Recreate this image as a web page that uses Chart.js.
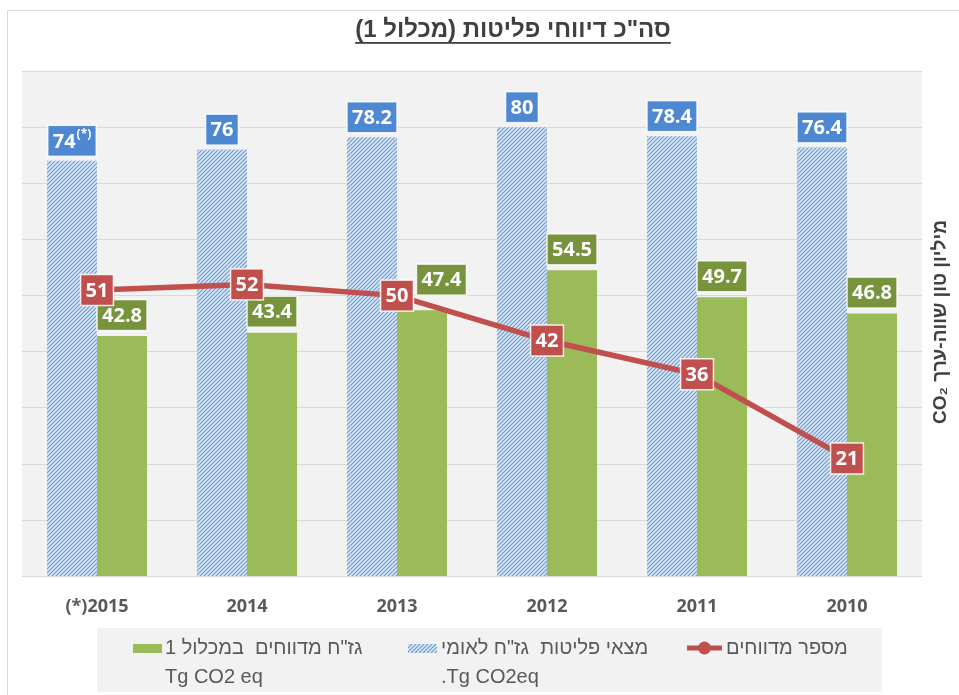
<!DOCTYPE html>
<html>
<head>
<meta charset="utf-8">
<script src="https://cdn.jsdelivr.net/npm/chart.js@4"></script>
<style>
  body { margin: 0; background: #fff; }
  canvas { display: block; }
</style>
</head>
<body>
<canvas id="chart" width="959" height="695"></canvas>
<script>
// data
const categories = ['(*)2015', '2014', '2013', '2012', '2011', '2010'];
const inventory = [74, 76, 78.2, 80, 78.4, 76.4];           // national GHG inventory
const inventoryNotes = ['(*)', '', '', '', '', ''];
const reported = [42.8, 43.4, 47.4, 54.5, 49.7, 46.8];      // reported emissions, cluster 1
const reporters = [51, 52, 50, 42, 36, 21];                 // number of reporters
const yTicks = { min: 0, max: 90, step: 10 };

const chartTitle = 'סה"כ דיווחי פליטות (מכלול 1)';
const yTitle = 'מיליון טון שווה-ערך CO₂';
const legendNotes = ['', '.Tg CO2eq', 'Tg CO2 eq'];

const RED = '#c0504d';
const GREEN = '#9bbb59';
const GREEN_DARK = '#77933c';
const BLUE_DARK = '#4f88d2';
const HEB = '"Liberation Sans", "DejaVu Sans", sans-serif';
const NUM = '"Open Sans", "Liberation Sans", sans-serif';

const ctx = document.getElementById('chart').getContext('2d');

function hatch() {
    const c = document.createElement('canvas');
    c.width = 4; c.height = 4;
    const x = c.getContext('2d');
    x.fillStyle = '#dae6f5';
    x.fillRect(0, 0, 4, 4);
    x.strokeStyle = '#6d9dd5';
    x.lineWidth = 1.2;
    x.beginPath();
    x.moveTo(0, 4); x.lineTo(4, 0);
    x.moveTo(-1, 1); x.lineTo(1, -1);
    x.moveTo(3, 5); x.lineTo(5, 3);
    x.stroke();
    return ctx.createPattern(c, 'repeat');
}
const blueHatch = hatch();

function boxSize(c, text, sup) {
    c.font = 'bold 20px ' + NUM;
    const w1 = c.measureText(text).width;
    c.font = 'bold 12px ' + NUM;
    const w2 = sup ? c.measureText(sup).width + 1 : 0;
    return { w1, w2, w: Math.max(w1 + w2 + 10, 30), h: 31 };
}

function box(c, cx, cy, text, sup, fill) {
    const { w1, w2, w, h } = boxSize(c, text, sup);
    c.fillStyle = fill;
    c.fillRect(cx - w / 2, cy - h / 2, w, h);
    c.strokeStyle = 'rgba(255,255,255,0.85)';
    c.lineWidth = 1.5;
    c.strokeRect(cx - w / 2, cy - h / 2, w, h);
    c.fillStyle = '#fff';
    c.textBaseline = 'middle';
    c.textAlign = 'left';
    c.direction = 'ltr';
    c.font = 'bold 20px ' + NUM;
    const x0 = cx - (w1 + w2) / 2;
    c.fillText(text, x0, cy + 1);
    if (sup) {
        c.font = 'bold 12px ' + NUM;
        c.fillText(sup, x0 + w1 + 1, cy - 6);
    }
}

const decorations = {
    id: 'decorations',
    beforeDraw(chart) {
        const c = chart.ctx, a = chart.chartArea;
        c.save();
        c.fillStyle = '#fff';
        c.fillRect(0, 0, chart.width, chart.height);
        c.strokeStyle = '#d9d9d9';
        c.lineWidth = 1;
        c.beginPath();
        c.moveTo(7.5, chart.height + 5); c.lineTo(7.5, 10.5); c.lineTo(chart.width + 5, 10.5);
        c.stroke();
        c.fillStyle = '#f2f2f2';
        c.fillRect(a.left, a.top, a.right - a.left, a.bottom - a.top);
        c.restore();
    },
    afterDatasetsDraw(chart) {
        const c = chart.ctx;
        c.save();
        const redMeta = chart.getDatasetMeta(2);
        const blueMeta = chart.getDatasetMeta(0);
        blueMeta.data.forEach((bar, i) => {
            box(c, bar.x, bar.y - 20, String(inventory[i]), inventoryNotes[i], BLUE_DARK);
        });
        const greenMeta = chart.getDatasetMeta(1);
        greenMeta.data.forEach((bar, i) => {
            const txt = String(reported[i]);
            const s = boxSize(c, txt, '');
            let cx = bar.x, cy = bar.y - 21;
            // keep clear of the red label of the same year, like the original does
            const pt = redMeta.data[i];
            const rs = boxSize(c, String(reporters[i]), '');
            if (Math.abs(cx - pt.x) < (s.w + rs.w) / 2 && Math.abs(cy - pt.y) < 15) {
                cx = pt.x + rs.w / 2 + s.w / 2 + 3;
                cy = pt.y - 16;
            }
            box(c, cx, cy, txt, '', GREEN_DARK);
        });
        redMeta.data.forEach((pt, i) => {
            box(c, pt.x, pt.y, String(reporters[i]), '', RED);
        });
        c.restore();
    },
    afterDraw(chart) {
        const c = chart.ctx;
        c.save();
        // title
        c.direction = 'rtl';
        c.textAlign = 'center';
        c.textBaseline = 'middle';
        c.fillStyle = '#404040';
        c.font = 'bold 24px ' + HEB;
        const tx = 513, ty = 30;
        c.fillText(chartTitle, tx, ty);
        const tw = c.measureText(chartTitle).width;
        c.fillRect(tx - tw / 2, ty + 12, tw, 1.8);

        // y axis title, on the right, reading bottom to top
        c.translate(941, 322);
        c.rotate(-Math.PI / 2);
        c.font = 'bold 19px ' + HEB;
        c.fillText(yTitle, 0, 0);
        c.restore();

        // legend
        c.save();
        c.fillStyle = '#f2f2f2';
        c.fillRect(97, 628, 785, 64);
        const ds = chart.data.datasets;
        const items = [
            { ds: ds[2], sx: 687, tx: 726 },
            { ds: ds[0], sx: 408, tx: 441, note: legendNotes[1] },
            { ds: ds[1], sx: 133, tx: 165, note: legendNotes[2] }
        ];
        items.forEach(it => {
            const y = 648;
            if (it.ds.type === 'line') {
                c.strokeStyle = RED;
                c.lineWidth = 5;
                c.beginPath(); c.moveTo(it.sx, y); c.lineTo(it.sx + 35, y); c.stroke();
                c.fillStyle = RED;
                c.beginPath(); c.arc(it.sx + 17.5, y, 6.5, 0, Math.PI * 2); c.fill();
            } else {
                c.fillStyle = it.ds.backgroundColor;
                c.fillRect(it.sx, y - 4, 29, 9);
            }
            c.fillStyle = '#595959';
            c.font = '20px ' + HEB;
            c.direction = 'rtl';
            c.textAlign = 'left';
            c.textBaseline = 'middle';
            c.fillText(it.ds.label, it.tx, y);
            if (it.note) {
                c.direction = 'ltr';
                c.fillText(it.note, it.tx, y + 29);
            }
        });
        c.restore();
    }
};

const chart = new Chart(ctx, {
    type: 'bar',
    data: {
        labels: categories,
        datasets: [
            {
                label: 'מצאי פליטות  גז"ח לאומי',
                data: inventory,
                backgroundColor: blueHatch,
                order: 1,
                categoryPercentage: 0.667,
                barPercentage: 1
            },
            {
                label: 'גז"ח מדווחים  במכלול 1',
                data: reported,
                backgroundColor: GREEN,
                order: 2,
                categoryPercentage: 0.667,
                barPercentage: 1
            },
            {
                type: 'line',
                label: 'מספר מדווחים',
                data: reporters,
                borderColor: RED,
                backgroundColor: RED,
                borderWidth: 5.5,
                pointRadius: 0,
                tension: 0,
                order: 0
            }
        ]
    },
    options: {
        responsive: false,
        devicePixelRatio: 1,
        animation: false,
        layout: { padding: { left: 22, right: 37, top: 71, bottom: 65 } },
        plugins: {
            legend: { display: false },
            title: { display: false },
            tooltip: { enabled: false }
        },
        scales: {
            x: {
                grid: { display: false },
                border: { display: false },
                ticks: {
                    color: '#595959',
                    padding: 12,
                    font: { family: NUM, size: 18, weight: 'bold' }
                }
            },
            y: {
                min: yTicks.min,
                max: yTicks.max,
                grid: { color: '#d9d9d9', drawTicks: false },
                border: { display: false },
                ticks: { display: false, stepSize: yTicks.step }
            }
        }
    },
    plugins: [decorations]
});
</script>
</body>
</html>
